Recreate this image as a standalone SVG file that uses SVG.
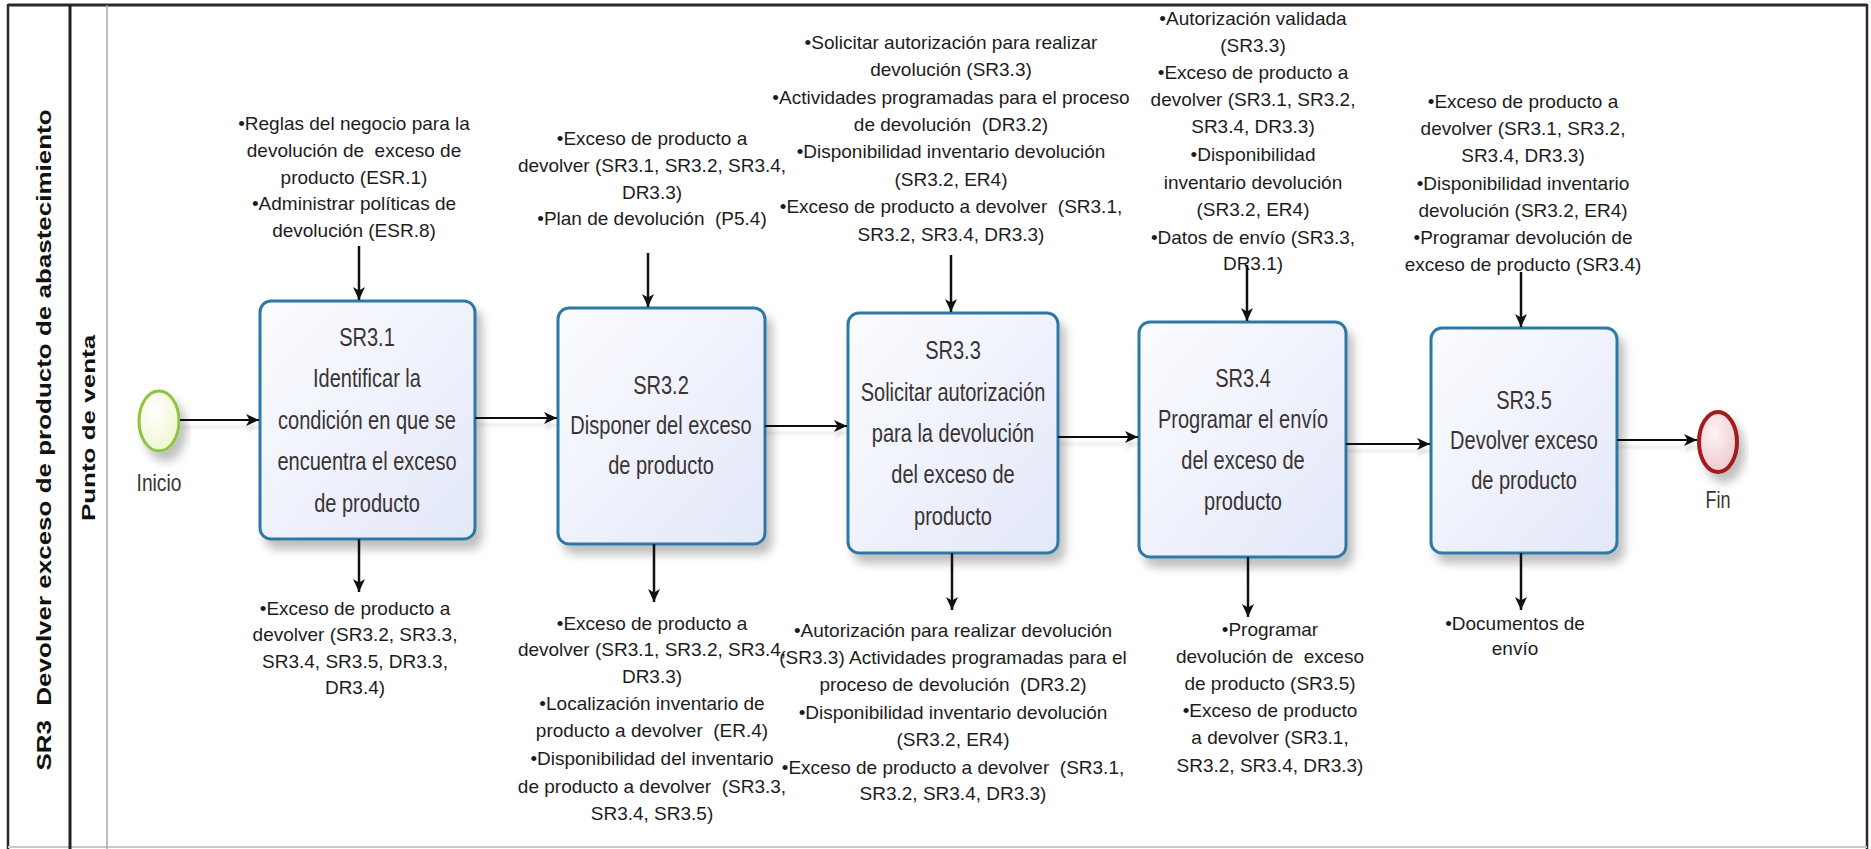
<svg xmlns="http://www.w3.org/2000/svg" width="1871" height="849" viewBox="0 0 1871 849">
  <style>
    .ann{font-family:"Liberation Sans",Arial,sans-serif;font-size:19px;fill:#1c1c1c;text-anchor:middle}
    .tsk{font-family:"Liberation Sans",Arial,sans-serif;font-size:26px;fill:#3a3333;text-anchor:middle}
    .lbl{font-family:"Liberation Sans",Arial,sans-serif;font-size:24px;fill:#3a3333;text-anchor:middle}
    .ttl{font-family:"Liberation Sans",Arial,sans-serif;font-size:26px;font-weight:bold;fill:#111;text-anchor:middle}
    .box{fill:url(#taskFill);stroke:#2d78a6;stroke-width:3;filter:url(#shadow)}
    .flow{stroke:#111;stroke-width:2;fill:none;marker-end:url(#arrow)}
    .io{stroke:#111;stroke-width:2.5;fill:none;marker-end:url(#arrow)}
  </style>
  <defs>
    <linearGradient id="taskFill" x1="0" y1="0" x2="1" y2="1">
      <stop offset="0" stop-color="#fbfcff"/>
      <stop offset="1" stop-color="#e3e8f8"/>
    </linearGradient>
    <radialGradient id="startFill" cx="0.4" cy="0.35" r="0.7">
      <stop offset="0" stop-color="#ffffff"/>
      <stop offset="1" stop-color="#eef6cf"/>
    </radialGradient>
    <radialGradient id="endFill" cx="0.4" cy="0.35" r="0.7">
      <stop offset="0" stop-color="#fdf3f4"/>
      <stop offset="1" stop-color="#efc9cd"/>
    </radialGradient>
    <filter id="shadow" x="-20%" y="-20%" width="150%" height="150%">
      <feDropShadow dx="6" dy="9" stdDeviation="5" flood-color="#000" flood-opacity="0.25"/>
    </filter>
    <filter id="lineShadow" x="-5%" y="-200%" width="110%" height="800%">
      <feDropShadow dx="0" dy="7" stdDeviation="1.5" flood-color="#000" flood-opacity="0.1"/>
    </filter>
    <marker id="arrow" markerUnits="userSpaceOnUse" markerWidth="14" markerHeight="14" refX="13" refY="7" orient="auto">
      <path d="M0,1 L13,7 L0,13 L3.5,7 Z" fill="#111"/>
    </marker>
  </defs>

  <rect x="0" y="0" width="1871" height="849" fill="#ffffff"/>

  <!-- pool and lane frame -->
  <g id="pool">
    <line x1="8" y1="5" x2="1867" y2="5" stroke="#2a2a2a" stroke-width="3"/>
    <line x1="8" y1="4" x2="8" y2="849" stroke="#2a2a2a" stroke-width="2.5"/>
    <line x1="1867" y1="4" x2="1867" y2="849" stroke="#2a2a2a" stroke-width="2.5"/>
    <line x1="8" y1="847" x2="1867" y2="847" stroke="#c8c8c8" stroke-width="2"/>
    <line x1="70" y1="5" x2="70" y2="849" stroke="#222" stroke-width="3"/>
    <line x1="107" y1="5" x2="107" y2="849" stroke="#a8a8a8" stroke-width="1.5"/>
    <text class="ttl" xml:space="preserve" transform="translate(51,440) scale(0.78,1) rotate(-90)">SR3  Devolver exceso de producto de abastecimiento</text>
  </g>
  <g id="lane">
    <text class="ttl" transform="translate(95,428) scale(0.72,1) rotate(-90)">Punto de venta</text>
  </g>

  <!-- events -->
  <g id="start">
    <ellipse cx="159" cy="421" rx="20" ry="30" fill="url(#startFill)" stroke="#8cc43c" stroke-width="3" filter="url(#shadow)"/>
    <text class="lbl" transform="translate(159,0) scale(0.8,1)" x="0" y="491">Inicio</text>
  </g>
  <g id="end">
    <ellipse cx="1718" cy="442" rx="19" ry="30" fill="url(#endFill)" stroke="#a31a1e" stroke-width="4" filter="url(#shadow)"/>
    <text class="lbl" transform="translate(1718,0) scale(0.75,1)" x="0" y="508">Fin</text>
  </g>

  <!-- tasks -->
  <g id="sr31">
    <rect class="box" x="260" y="301" width="215" height="238" rx="11"/>
    <g transform="translate(367,0) scale(0.77,1)">
      <text class="tsk" x="0" y="346">SR3.1</text>
      <text class="tsk" x="0" y="387">Identificar la</text>
      <text class="tsk" x="0" y="429">condición en que se</text>
      <text class="tsk" x="0" y="470">encuentra el exceso</text>
      <text class="tsk" x="0" y="512">de producto</text>
    </g>
  </g>
  <g id="sr32">
    <rect class="box" x="558" y="308" width="207" height="236" rx="11"/>
    <g transform="translate(661,0) scale(0.77,1)">
      <text class="tsk" x="0" y="394">SR3.2</text>
      <text class="tsk" x="0" y="434">Disponer del exceso</text>
      <text class="tsk" x="0" y="474">de producto</text>
    </g>
  </g>
  <g id="sr33">
    <rect class="box" x="848" y="313" width="210" height="240" rx="11"/>
    <g transform="translate(953,0) scale(0.77,1)">
      <text class="tsk" x="0" y="359">SR3.3</text>
      <text class="tsk" x="0" y="401">Solicitar autorización</text>
      <text class="tsk" x="0" y="442">para la devolución</text>
      <text class="tsk" x="0" y="483">del exceso de</text>
      <text class="tsk" x="0" y="525">producto</text>
    </g>
  </g>
  <g id="sr34">
    <rect class="box" x="1139" y="322" width="207" height="235" rx="11"/>
    <g transform="translate(1243,0) scale(0.77,1)">
      <text class="tsk" x="0" y="387">SR3.4</text>
      <text class="tsk" x="0" y="428">Programar el envío</text>
      <text class="tsk" x="0" y="469">del exceso de</text>
      <text class="tsk" x="0" y="510">producto</text>
    </g>
  </g>
  <g id="sr35">
    <rect class="box" x="1431" y="328" width="186" height="225" rx="11"/>
    <g transform="translate(1524,0) scale(0.77,1)">
      <text class="tsk" x="0" y="409">SR3.5</text>
      <text class="tsk" x="0" y="449">Devolver exceso</text>
      <text class="tsk" x="0" y="489">de producto</text>
    </g>
  </g>

  <!-- inputs of each task -->
  <g id="in-sr31">
    <text class="ann" x="354" y="130">•Reglas del negocio para la</text>
    <text class="ann" x="354" y="157" xml:space="preserve">devolución de  exceso de</text>
    <text class="ann" x="354" y="184">producto (ESR.1)</text>
    <text class="ann" x="354" y="210">•Administrar políticas de</text>
    <text class="ann" x="354" y="237">devolución (ESR.8)</text>
  </g>
  <g id="in-sr32">
    <text class="ann" x="652" y="145">•Exceso de producto a</text>
    <text class="ann" x="652" y="172">devolver (SR3.1, SR3.2, SR3.4,</text>
    <text class="ann" x="652" y="199">DR3.3)</text>
    <text class="ann" x="652" y="225" xml:space="preserve">•Plan de devolución  (P5.4)</text>
  </g>
  <g id="in-sr33">
    <text class="ann" x="951" y="49">•Solicitar autorización para realizar</text>
    <text class="ann" x="951" y="76">devolución (SR3.3)</text>
    <text class="ann" x="951" y="104">•Actividades programadas para el proceso</text>
    <text class="ann" x="951" y="131" xml:space="preserve">de devolución  (DR3.2)</text>
    <text class="ann" x="951" y="158">•Disponibilidad inventario devolución</text>
    <text class="ann" x="951" y="186">(SR3.2, ER4)</text>
    <text class="ann" x="951" y="213" xml:space="preserve">•Exceso de producto a devolver  (SR3.1,</text>
    <text class="ann" x="951" y="241">SR3.2, SR3.4, DR3.3)</text>
  </g>
  <g id="in-sr34">
    <text class="ann" x="1253" y="25">•Autorización validada</text>
    <text class="ann" x="1253" y="52">(SR3.3)</text>
    <text class="ann" x="1253" y="79">•Exceso de producto a</text>
    <text class="ann" x="1253" y="106">devolver (SR3.1, SR3.2,</text>
    <text class="ann" x="1253" y="133">SR3.4, DR3.3)</text>
    <text class="ann" x="1253" y="161">•Disponibilidad</text>
    <text class="ann" x="1253" y="189">inventario devolución</text>
    <text class="ann" x="1253" y="216">(SR3.2, ER4)</text>
    <text class="ann" x="1253" y="244">•Datos de envío (SR3.3,</text>
    <text class="ann" x="1253" y="270">DR3.1)</text>
  </g>
  <g id="in-sr35">
    <text class="ann" x="1523" y="108">•Exceso de producto a</text>
    <text class="ann" x="1523" y="135">devolver (SR3.1, SR3.2,</text>
    <text class="ann" x="1523" y="162">SR3.4, DR3.3)</text>
    <text class="ann" x="1523" y="190">•Disponibilidad inventario</text>
    <text class="ann" x="1523" y="217">devolución (SR3.2, ER4)</text>
    <text class="ann" x="1523" y="244">•Programar devolución de</text>
    <text class="ann" x="1523" y="271">exceso de producto (SR3.4)</text>
  </g>

  <!-- outputs of each task -->
  <g id="out-sr31">
    <text class="ann" x="355" y="615">•Exceso de producto a</text>
    <text class="ann" x="355" y="641">devolver (SR3.2, SR3.3,</text>
    <text class="ann" x="355" y="668">SR3.4, SR3.5, DR3.3,</text>
    <text class="ann" x="355" y="694">DR3.4)</text>
  </g>
  <g id="out-sr32">
    <text class="ann" x="652" y="630">•Exceso de producto a</text>
    <text class="ann" x="652" y="656">devolver (SR3.1, SR3.2, SR3.4,</text>
    <text class="ann" x="652" y="683">DR3.3)</text>
    <text class="ann" x="652" y="710">•Localización inventario de</text>
    <text class="ann" x="652" y="737" xml:space="preserve">producto a devolver  (ER.4)</text>
    <text class="ann" x="652" y="765">•Disponibilidad del inventario</text>
    <text class="ann" x="652" y="793" xml:space="preserve">de producto a devolver  (SR3.3,</text>
    <text class="ann" x="652" y="820">SR3.4, SR3.5)</text>
  </g>
  <g id="out-sr33">
    <text class="ann" x="953" y="637">•Autorización para realizar devolución</text>
    <text class="ann" x="953" y="664">(SR3.3) Actividades programadas para el</text>
    <text class="ann" x="953" y="691" xml:space="preserve">proceso de devolución  (DR3.2)</text>
    <text class="ann" x="953" y="719">•Disponibilidad inventario devolución</text>
    <text class="ann" x="953" y="746">(SR3.2, ER4)</text>
    <text class="ann" x="953" y="774" xml:space="preserve">•Exceso de producto a devolver  (SR3.1,</text>
    <text class="ann" x="953" y="800">SR3.2, SR3.4, DR3.3)</text>
  </g>
  <g id="out-sr34">
    <text class="ann" x="1270" y="636">•Programar</text>
    <text class="ann" x="1270" y="663" xml:space="preserve">devolución de  exceso</text>
    <text class="ann" x="1270" y="690">de producto (SR3.5)</text>
    <text class="ann" x="1270" y="717">•Exceso de producto</text>
    <text class="ann" x="1270" y="744">a devolver (SR3.1,</text>
    <text class="ann" x="1270" y="772">SR3.2, SR3.4, DR3.3)</text>
  </g>
  <g id="out-sr35">
    <text class="ann" x="1515" y="630">•Documentos de</text>
    <text class="ann" x="1515" y="655">envío</text>
  </g>

  <!-- connectors -->
  <g id="connectors">
    <g filter="url(#lineShadow)">
      <line class="flow" x1="180" y1="420" x2="259" y2="420"/>
      <line class="flow" x1="475" y1="418" x2="557" y2="418"/>
      <line class="flow" x1="765" y1="426" x2="847" y2="426"/>
      <line class="flow" x1="1058" y1="437" x2="1138" y2="437"/>
      <line class="flow" x1="1346" y1="444" x2="1430" y2="444"/>
      <line class="flow" x1="1617" y1="440" x2="1697" y2="440"/>
    </g>
    <line class="io" x1="359" y1="246" x2="359" y2="300"/>
    <line class="io" x1="648" y1="253" x2="648" y2="307"/>
    <line class="io" x1="951" y1="255" x2="951" y2="312"/>
    <line class="io" x1="1247" y1="265" x2="1247" y2="321"/>
    <line class="io" x1="1521" y1="272" x2="1521" y2="327"/>
    <line class="io" x1="359" y1="539" x2="359" y2="592"/>
    <line class="io" x1="654" y1="544" x2="654" y2="602"/>
    <line class="io" x1="952" y1="553" x2="952" y2="610"/>
    <line class="io" x1="1248" y1="557" x2="1248" y2="617"/>
    <line class="io" x1="1521" y1="553" x2="1521" y2="610"/>
  </g>
</svg>
